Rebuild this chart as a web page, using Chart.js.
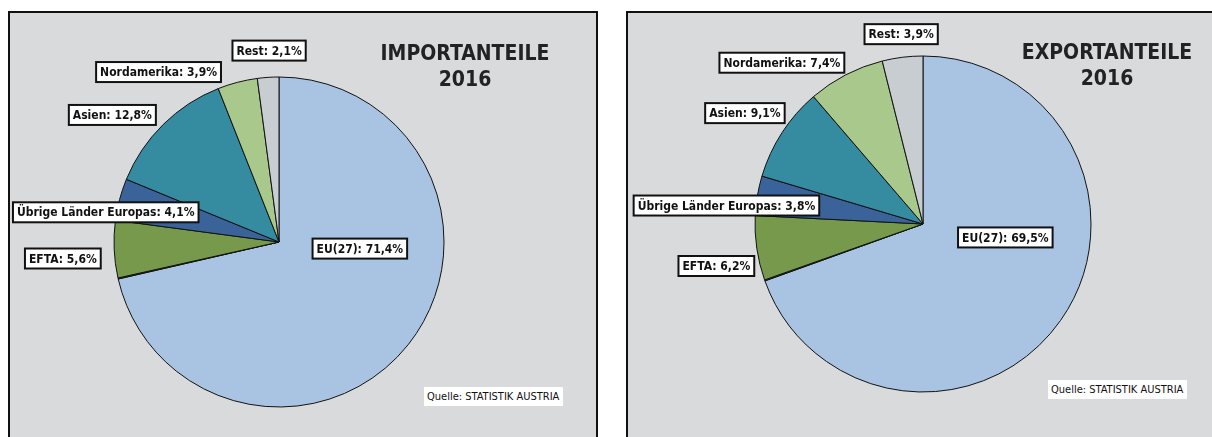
<!DOCTYPE html>
<html lang="de">
<head>
<meta charset="UTF-8">
<title>Import- und Exportanteile 2016</title>
<script src="https://cdn.jsdelivr.net/npm/chart.js"></script>
<style>
  body { margin:0; background:#fff; width:1212px; height:437px; overflow:hidden; position:relative; font-family:'DejaVu Sans Condensed','DejaVu Sans',sans-serif; }
  .panel { position:absolute; top:11px; height:440px; background:#d9dadc; border:2px solid #111; border-bottom:none; box-sizing:border-box; }
  .panel canvas { position:absolute; left:0; top:0; }
  .title { position:absolute; width:260px; text-align:center; font-weight:bold; font-size:21px; line-height:26px; color:#222; }
  .src { position:absolute; background:#fff; font-size:11px; color:#111; padding:3px 4px 3px 3px; white-space:nowrap; }
</style>
</head>
<body>
<div class="panel" id="pImp" style="left:8px;width:590px;"><canvas id="cImp" width="586" height="426"></canvas></div>
<div class="panel" id="pExp" style="left:626px;width:600px;"><canvas id="cExp" width="584" height="426"></canvas></div>

<div class="title" style="left:335px;top:40px;">IMPORTANTEILE<br>2016</div>
<div class="title" style="left:977px;top:39px;">EXPORTANTEILE<br>2016</div>
<div class="src" style="left:424px;top:387px;">Quelle: STATISTIK AUSTRIA</div>
<div class="src" style="left:1048px;top:380px;">Quelle: STATISTIK AUSTRIA</div>

<script>
// regions, clockwise from the top (the 0,1 sliver is the unlabelled remainder)
const regions = ['EU(27)', '', 'EFTA', 'Übrige Länder Europas', 'Asien', 'Nordamerika', 'Rest'];
const importShares = [71.4, 0.1, 5.6, 4.1, 12.8, 3.9, 2.1];
const exportShares = [69.5, 0.1, 6.2, 3.8, 9.1, 7.4, 3.9];
const colors = ['#a9c4e2', '#4a4d48', '#77994b', '#3a6499', '#358b9f', '#a9c98c', '#c8cdd2'];

// label box centres, in pie radii from the centre
const importLabelPos = [[0.49,0.04], null, [-1.31,0.10], [-1.05,-0.18], [-1.01,-0.77], [-0.73,-1.03], [-0.06,-1.16]];
const exportLabelPos = [[0.49,0.08], null, [-1.23,0.25], [-1.17,-0.11], [-1.06,-0.66], [-0.84,-0.96], [-0.13,-1.13]];

const fmt = v => v.toFixed(1).replace('.', ',') + '%';

const boxLabels = {
  id: 'boxLabels',
  afterDatasetsDraw(chart, args, opts) {
    const ctx = chart.ctx, meta = chart.getDatasetMeta(0);
    const arc = meta.data[0], r = arc.outerRadius;
    const vals = chart.data.datasets[0].data;
    ctx.save();
    ctx.font = 'bold 12px "DejaVu Sans Condensed", sans-serif';
    ctx.textAlign = 'center';
    ctx.textBaseline = 'middle';
    opts.pos.forEach((p, i) => {
      if (!p) return;
      const txt = chart.data.labels[i] + ': ' + fmt(vals[i]);
      const cx = arc.x + p[0] * r, cy = arc.y + p[1] * r;
      const w = ctx.measureText(txt).width + 8, h = 20;
      ctx.fillStyle = '#fff';
      ctx.fillRect(cx - w / 2, cy - h / 2, w, h);
      ctx.lineWidth = 2;
      ctx.strokeStyle = '#111';
      ctx.strokeRect(cx - w / 2, cy - h / 2, w, h);
      ctx.fillStyle = '#111';
      ctx.fillText(txt, cx, cy + 1);
    });
    ctx.restore();
  }
};

function makePie(id, shares, labelPos, cx, cy, r) {
  const cv = document.getElementById(id);
  const half = r + 0.5;
  return new Chart(cv, {
    type: 'pie',
    data: {
      labels: regions,
      datasets: [{ data: shares, backgroundColor: colors, borderColor: '#111', borderWidth: 1 }]
    },
    options: {
      responsive: false,
      animation: false,
      layout: { padding: { left: cx - half, top: cy - half, right: cv.width - cx - half, bottom: cv.height - cy - half } },
      plugins: { legend: { display: false }, tooltip: { enabled: false }, boxLabels: { pos: labelPos } }
    },
    plugins: [boxLabels]
  });
}

makePie('cImp', importShares, importLabelPos, 269, 229, 165);
makePie('cExp', exportShares, exportLabelPos, 295, 211, 168);
</script>
</body>
</html>
